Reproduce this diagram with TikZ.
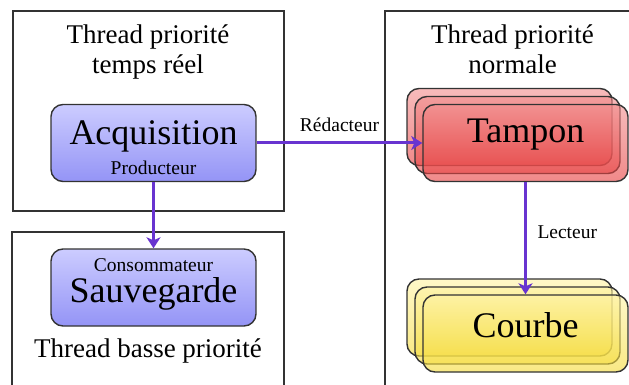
\documentclass[tikz,border=0pt]{standalone}
\usepackage{fontspec}
\setmainfont{Liberation Serif}
\usetikzlibrary{arrows.meta}

\definecolor{framegray}{RGB}{51,51,51}
\definecolor{flowpurple}{RGB}{104,52,208}
\definecolor{blueTop}{RGB}{204,204,255}
\definecolor{blueBot}{RGB}{148,148,246}
\definecolor{redTop}{RGB}{242,142,142}
\definecolor{redBot}{RGB}{230,59,59}
\definecolor{yelTop}{RGB}{255,243,163}
\definecolor{yelBot}{RGB}{244,218,51}

\tikzset{
  frame/.style={draw=framegray,line width=1.4pt},
  task/.style={draw=framegray,line width=1.4pt,rounded corners=12pt,
    minimum width=205pt,minimum height=77pt},
  acqbox/.style={task,top color=blueTop,bottom color=blueBot},
  bufbox/.style={task,top color=redTop,bottom color=redBot,fill opacity=.6},
  plotbox/.style={task,top color=yelTop,bottom color=yelBot,fill opacity=.6},
  flow/.style={draw=flowpurple,line width=3pt,
    -{Stealth[length=11pt,width=14pt,inset=3pt]}},
  title/.style={font=\fontsize{27}{30}\selectfont,align=center},
  big/.style={font=\fontsize{36}{40}\selectfont},
  small/.style={font=\fontsize{19.5}{22}\selectfont},
}

\begin{document}
\begin{tikzpicture}[x=1pt,y=-1pt,every node/.style={inner sep=0pt}]
\clip (0,0) rectangle (629,385);
% thread frames
\draw[frame] (13,11) rectangle (284,211);
\draw[frame] (12,232) rectangle (284,400);
\draw[frame] (385,11) rectangle (640,400);
\node[title,anchor=north] (rt) at (148,25) {Thread priorité\\temps réel};
\node[title,anchor=north] (nt) at (512.5,25) {Thread priorité\\normale};
\node[title] (bt) at (148,351) {Thread basse priorité};
% producer and consumer
\node[acqbox] (acq) at (153.5,143) {};
\node[big] (acqt) at (153.5,136.5) {Acquisition};
\node[small] (prod) at (153.5,167.5) {Producteur};
\node[acqbox] (sauv) at (153.5,287.5) {};
\node[small] (cons) at (153.5,265) {Consommateur};
\node[big] (sauvt) at (153.5,294) {Sauvegarde};
% stacked buffers and plots
\foreach \d/\n in {16/a,8/b,0/c}{
  \node[bufbox] (tampon\n) at (525.5-\d,143-\d) {};
  \node[plotbox] (courbe\n) at (525.5-\d,333.5-\d) {};
}
\node[big] (tamponlbl) at (525.5,135) {Tampon};
\node[big] (courbelbl) at (525.5,325.5) {Courbe};
% data flow
\draw[flow] (acq.east) -- node[small,above=10pt] (redac) {Rédacteur} (tamponc.west);
\draw[flow] (acq.south) -- (sauv.north);
\draw[flow] (tamponc.south) -- node[small,right=10.5pt,pos=.45] (lect) {Lecteur} (courbec.north);
\end{tikzpicture}
\end{document}
